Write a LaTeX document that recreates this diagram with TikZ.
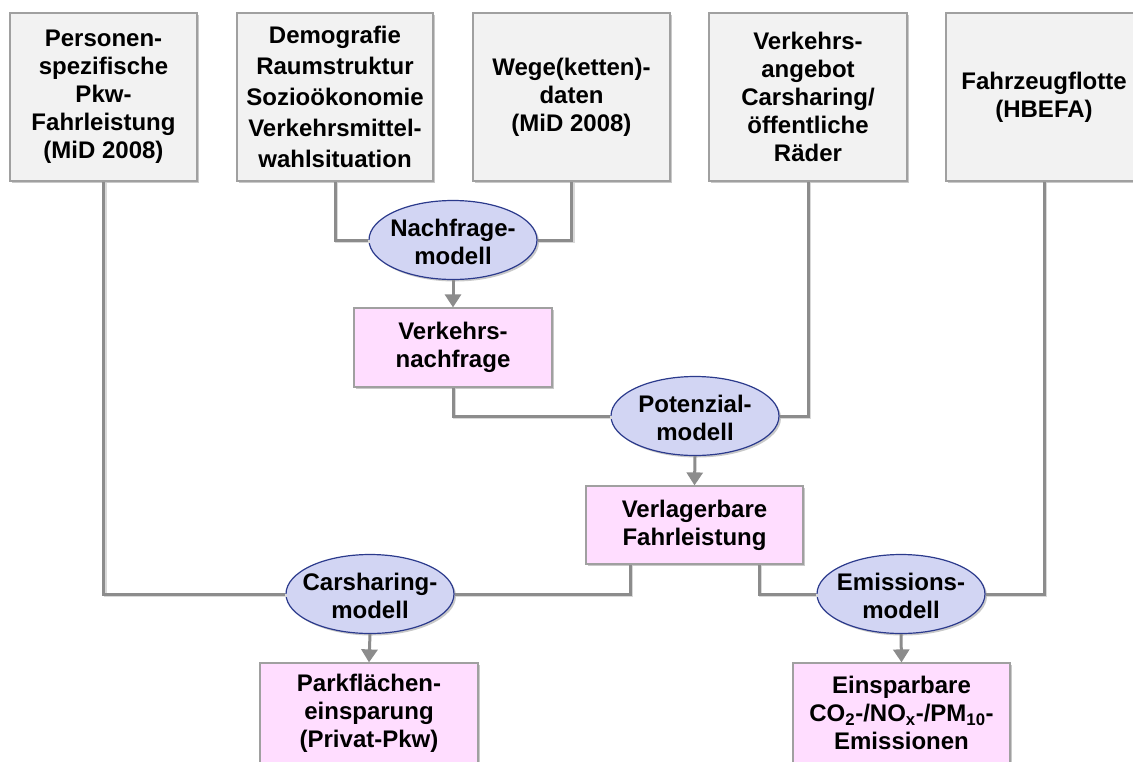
\documentclass[tikz,border=0pt]{standalone}
\usepackage{fontspec}
\setmainfont{Liberation Sans}
\usetikzlibrary{shapes.geometric,arrows.meta,shadows}
\definecolor{boxgray}{HTML}{F2F2F2}
\definecolor{boxline}{HTML}{A0A0A0}
\definecolor{pinkfill}{HTML}{FFDDFF}
\definecolor{ellfill}{HTML}{D2D5F3}
\definecolor{ellline}{HTML}{2B3A8C}
\definecolor{conn}{HTML}{8C8C8C}
\tikzset{
  txt/.style={font=\bfseries\fontsize{24}{28}\selectfont, align=center, text=black},
  shad/.style={drop shadow={shadow xshift=2pt, shadow yshift=-2pt, opacity=0.35, fill=black!60}},
  srcbox/.style={txt, rectangle, draw=boxline, line width=1.2pt, fill=boxgray, shad, inner sep=0pt},
  resbox/.style={txt, rectangle, draw=boxline, line width=1.2pt, fill=pinkfill, shad, inner sep=0pt},
  model/.style={ellipse, draw=ellline, line width=1.2pt, fill=ellfill, inner sep=0pt,
     minimum width=168pt, minimum height=79pt, shad,
     label={[txt, inner sep=0pt, yshift=-2pt]center:#1}},
  link/.style={draw=conn, line width=3pt,
     preaction={draw=black!15, line width=3pt, transform canvas={shift={(1.5pt,-1.5pt)}}}},
  flow/.style={draw=conn, line width=3pt, -{Triangle[width=16pt,length=13pt]}}
}
\begin{document}
\begin{tikzpicture}[x=1pt,y=-1pt]
\useasboundingbox (0,0) rectangle (1133,761);
\clip (0,0) rectangle (1133,761);
\fill[white] (0,0) rectangle (1133,761);

% source boxes
\node[srcbox, minimum width=187pt, minimum height=168pt] (b1) at (103.5,97)
  {Personen-\\spezifische\\Pkw-\\Fahrleistung\\(MiD 2008)};
\node[srcbox, minimum width=196pt, minimum height=168pt,
      font=\bfseries\fontsize{24}{31}\selectfont] (b2) at (335,97)
  {Demografie\\Raumstruktur\\Sozioökonomie\\Verkehrsmittel-\\wahlsituation};
\node[srcbox, minimum width=197pt, minimum height=168pt] (b3) at (571.5,97)
  {Wege(ketten)-\\daten\\(MiD 2008)};
\node[srcbox, minimum width=198pt, minimum height=168pt] (b4) at (808,97)
  {Verkehrs-\\angebot\\Carsharing/\\öffentliche\\Räder};
\node[srcbox, minimum width=196pt, minimum height=168pt] (b5) at (1044,97)
  {Fahrzeugflotte\\(HBEFA)};

% models
\node[model={Nachfrage-\\modell}] (nm) at (453,240) {};
\node[model={Potenzial-\\modell}] (pm) at (695,416) {};
\node[model={Carsharing-\\modell}] (cm) at (370,594) {};
\node[model={Emissions-\\modell}] (em) at (901,594) {};

% results
\node[resbox, minimum width=198pt, minimum height=79pt] (vn) at (453,347.5)
  {Verkehrs-\\nachfrage};
\node[resbox, minimum width=217pt, minimum height=78pt] (vl) at (694.5,525)
  {Verlagerbare\\Fahrleistung};
\node[resbox, minimum width=218pt, minimum height=100pt] (pk) at (369,713)
  {Parkflächen-\\einsparung\\(Privat-Pkw)};
\node[resbox, minimum width=217pt, minimum height=100pt] (es) at (901.5,713)
  {Einsparbare\\CO\textsubscript{2}-/NO\textsubscript{x}-/PM\textsubscript{10}-\\Emissionen};

% connectors
\draw[link] (b2.south) |- (nm.west);
\draw[link] (b3.south) |- (nm.east);
\draw[link] (vn.south) |- (pm.west);
\draw[link] (b4.south) |- (pm.east);
\draw[link] (b1.south) |- (cm.west);
\draw[link] ([xshift=-64.5pt]vl.south) |- (cm.east);
\draw[link] ([xshift=64.5pt]vl.south) |- (em.west);
\draw[link] (b5.south) |- (em.east);

% arrows
\draw[flow] (nm.south) -- (vn.north);
\draw[flow] (pm.south) -- (vl.north);
\draw[flow] (cm.south) -- (pk.north);
\draw[flow] (em.south) -- (es.north);
\end{tikzpicture}
\end{document}
